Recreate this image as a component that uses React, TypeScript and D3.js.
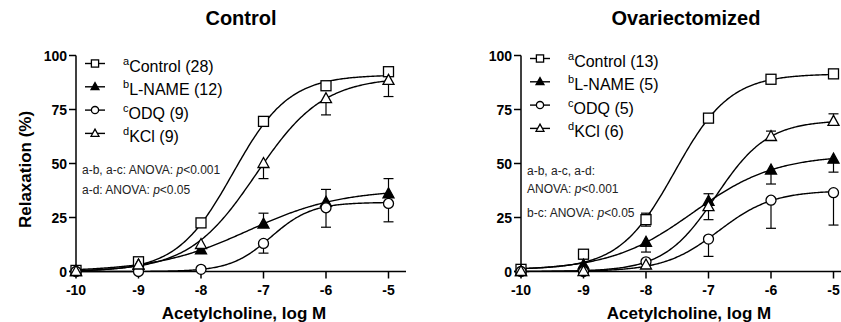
import * as d3 from "d3";

// log M
const doses = [-10, -9, -8, -7, -6, -5];
const seriesNames = ["Control", "L-NAME", "ODQ", "KCl"];
const letters = ["a", "b", "c", "d"];
const shapes = ["square", "triFilled", "circle", "triOpen"];

// Control panel
const ctlTitle = "Control";
const ctlN = [28, 12, 9, 9];
const ctlControl = [0.5, 4.5, 22.5, 69.5, 86, 92.5];
const ctlLName = [0, 3, 10, 22, 32, 36];
const ctlOdq = [0, 0, 1, 13, 29.5, 31.5];
const ctlKcl = [0, 3, 12.5, 50, 80, 88.5];
const ctlControlErr = [0.5, 1, 1, 1.5, 1, 1];
const ctlLNameErr = [0, 0.5, 1, 5, 6, 7];
const ctlOdqErr = [0, 0, 0.5, 4.5, 9, 8.5];
const ctlKclErr = [0, 0.5, 1, 7, 7.5, 7.5];
const ctlErrDir = [1, 1, -1, -1]; // 1 = up, -1 = down, 0 = both
const ctlFitBottom = [0, 0, 0, 0];
const ctlFitTop = [91, 38, 32, 90];
const ctlFitLogEC50 = [-7.49, -7.24, -6.88, -7.12];
const ctlFitHill = [0.97, 0.59, 1.34, 0.81];
const ctlNotes = ["a-b, a-c: ANOVA:  |p|<0.001", "a-d: ANOVA:  |p|<0.05"];

// Ovariectomized panel
const ovxTitle = "Ovariectomized";
const ovxN = [13, 5, 5, 6];
const ovxControl = [1, 8, 24, 71, 89, 91.5];
const ovxLName = [0, 3, 13.5, 32.5, 47, 52];
const ovxOdq = [0, 0, 4.5, 15, 33, 36.5];
const ovxKcl = [0, 0, 3, 30, 62.5, 69.5];
const ovxControlErr = [0.5, 1, 3, 1, 0.5, 0.5];
const ovxLNameErr = [0, 1, 4.5, 8.5, 6.5, 6];
const ovxOdqErr = [0, 0, 1, 8, 13, 15];
const ovxKclErr = [0, 0, 1, 6, 2.5, 3.5];
const ovxErrDir = [0, -1, -1, 1];
const ovxFitBottom = [1, 0.5, 0, 0];
const ovxFitTop = [91.5, 54, 37.5, 70];
const ovxFitLogEC50 = [-7.54, -7.25, -6.84, -6.88];
const ovxFitHill = [0.98, 0.66, 1.0, 1.05];
const ovxNotes = ["a-b, a-c, a-d:", "ANOVA: |p|<0.001", "b-c: ANOVA: |p|<0.05"];

const yTicks = [0, 25, 50, 75, 100];

const FONT = "'Liberation Sans', Arial, sans-serif";

type PanelProps = {
  title: string;
  left: number;
  values: number[][];
  errors: number[][];
  errDir: number[];
  n: number[];
  fit: { bottom: number[]; top: number[]; ec50: number[]; hill: number[] };
  notes: string[];
  noteY: number[];
  legendY: number;
  showYLabel: boolean;
};

function Marker({ shape, x, y, s = 1 }: { shape: string; x: number; y: number; s?: number }) {
  const sw = 1.3;
  if (shape === "square")
    return (
      <rect x={x - 5 * s} y={y - 5 * s} width={10 * s} height={10 * s} fill="#fff" stroke="#000" strokeWidth={sw} />
    );
  if (shape === "circle") return <circle cx={x} cy={y} r={5 * s} fill="#fff" stroke="#000" strokeWidth={sw} />;
  const pts = `${x},${y - 6 * s} ${x + 5.5 * s},${y + 4 * s} ${x - 5.5 * s},${y + 4 * s}`;
  return (
    <polygon
      points={pts}
      fill={shape === "triFilled" ? "#000" : "#fff"}
      stroke="#000"
      strokeWidth={sw}
      strokeLinejoin="miter"
    />
  );
}

function Note({ x, y, text }: { x: number; y: number; text: string }) {
  const parts = text.split("|");
  return (
    <text x={x} y={y} fontFamily={FONT} fontSize={12} fill="#222">
      {parts.map((p, i) => (
        <tspan key={i} fontStyle={i === 1 ? "italic" : "normal"}>
          {p}
        </tspan>
      ))}
    </text>
  );
}

function Panel(props: PanelProps) {
  const { left, values, errors, errDir, n, fit } = props;
  const x = d3.scaleLinear().domain([-10, -4.72]).range([left, left + 330]);
  const y = d3.scaleLinear().domain([0, 100]).range([271.5, 55.5]);
  const xs = d3.range(-10, -4.999, 0.02);
  const line = d3
    .line<number[]>()
    .x((d) => x(d[0]))
    .y((d) => y(d[1]));
  const curve = (i: number) =>
    xs.map((v) => [
      v,
      fit.bottom[i] + (fit.top[i] - fit.bottom[i]) / (1 + Math.pow(10, (fit.ec50[i] - v) * fit.hill[i])),
    ]);
  const x0 = x(-10);
  const legX = left + 9;
  const mid = x(-7.36);

  return (
    <g>
      <text x={(x0 + x.range()[1]) / 2} y={25} textAnchor="middle" fontFamily={FONT} fontWeight="bold" fontSize={20}>
        {props.title}
      </text>
      {/* axes */}
      <line x1={x0} x2={x0} y1={y(0)} y2={y(100)} stroke="#000" strokeWidth={1.5} />
      <line x1={x0 - 7} x2={x.range()[1]} y1={y(0)} y2={y(0)} stroke="#000" strokeWidth={1.5} />
      {yTicks.map((t) => (
        <g key={t}>
          <line x1={x0 - 7} x2={x0} y1={y(t)} y2={y(t)} stroke="#000" strokeWidth={1.5} />
          <text x={x0 - 9} y={y(t) + 5} textAnchor="end" fontFamily={FONT} fontWeight="bold" fontSize={14}>
            {t}
          </text>
        </g>
      ))}
      {doses.map((d) => (
        <g key={d}>
          <line x1={x(d)} x2={x(d)} y1={y(0)} y2={y(0) + 7} stroke="#000" strokeWidth={1.5} />
          <text x={x(d)} y={295} textAnchor="middle" fontFamily={FONT} fontWeight="bold" fontSize={14}>
            {d}
          </text>
        </g>
      ))}
      <text x={mid + 3} y={319} textAnchor="middle" fontFamily={FONT} fontWeight="bold" fontSize={17}>
        Acetylcholine, log M
      </text>
      {props.showYLabel && (
        <text
          transform={`translate(31,${y(50) + 6}) rotate(-90)`}
          textAnchor="middle"
          fontFamily={FONT}
          fontWeight="bold"
          fontSize={17}
        >
          Relaxation (%)
        </text>
      )}
      {/* fitted curves */}
      {values.map((_, i) => (
        <path key={i} d={line(curve(i)) || ""} fill="none" stroke="#000" strokeWidth={1.4} />
      ))}
      {/* error bars */}
      {values.map((vals, i) =>
        vals.map((v, j) => {
          const e = errors[i][j];
          if (!e) return null;
          const up = errDir[i] >= 0;
          const down = errDir[i] <= 0;
          const top = up ? v + e : v;
          const bot = down ? v - e : v;
          return (
            <g key={`${i}-${j}`} stroke="#000" strokeWidth={1.2}>
              <line x1={x(doses[j])} x2={x(doses[j])} y1={y(top)} y2={y(bot)} />
              {up && <line x1={x(doses[j]) - 5} x2={x(doses[j]) + 5} y1={y(top)} y2={y(top)} />}
              {down && <line x1={x(doses[j]) - 5} x2={x(doses[j]) + 5} y1={y(bot)} y2={y(bot)} />}
            </g>
          );
        })
      )}
      {/* markers */}
      {values.map((vals, i) =>
        vals.map((v, j) => <Marker key={`${i}-${j}`} shape={shapes[i]} x={x(doses[j])} y={y(v)} />)
      )}
      {/* legend */}
      {seriesNames.map((s, i) => {
        const ly = props.legendY + i * 23.3;
        return (
          <g key={s}>
            <line x1={legX} x2={legX + 20} y1={ly} y2={ly} stroke="#000" strokeWidth={1.4} />
            <Marker shape={shapes[i]} x={legX + 10} y={ly} s={0.72} />
            <text x={legX + 38} y={ly + 8.5} fontFamily={FONT} fontSize={16}>
              <tspan fontSize={11} dy={-7}>
                {letters[i]}
              </tspan>
              <tspan dy={7}>{`${s} (${n[i]})`}</tspan>
            </text>
          </g>
        );
      })}
      {props.notes.map((t, i) => (
        <Note key={i} x={x0 + 6} y={props.noteY[i]} text={t} />
      ))}
    </g>
  );
}

export default function App() {
  return (
    <svg width={841} height={322} style={{ position: "absolute", left: 0, top: 0, background: "#fff" }}>
      <Panel
        title={ctlTitle}
        left={76}
        values={[ctlControl, ctlLName, ctlOdq, ctlKcl]}
        errors={[ctlControlErr, ctlLNameErr, ctlOdqErr, ctlKclErr]}
        errDir={ctlErrDir}
        n={ctlN}
        fit={{ bottom: ctlFitBottom, top: ctlFitTop, ec50: ctlFitLogEC50, hill: ctlFitHill }}
        notes={ctlNotes}
        noteY={[174, 194]}
        legendY={63.5}
        showYLabel={true}
      />
      <Panel
        title={ovxTitle}
        left={521}
        values={[ovxControl, ovxLName, ovxOdq, ovxKcl]}
        errors={[ovxControlErr, ovxLNameErr, ovxOdqErr, ovxKclErr]}
        errDir={ovxErrDir}
        n={ovxN}
        fit={{ bottom: ovxFitBottom, top: ovxFitTop, ec50: ovxFitLogEC50, hill: ovxFitHill }}
        notes={ovxNotes}
        noteY={[175, 193, 217]}
        legendY={58.5}
        showYLabel={false}
      />
    </svg>
  );
}
